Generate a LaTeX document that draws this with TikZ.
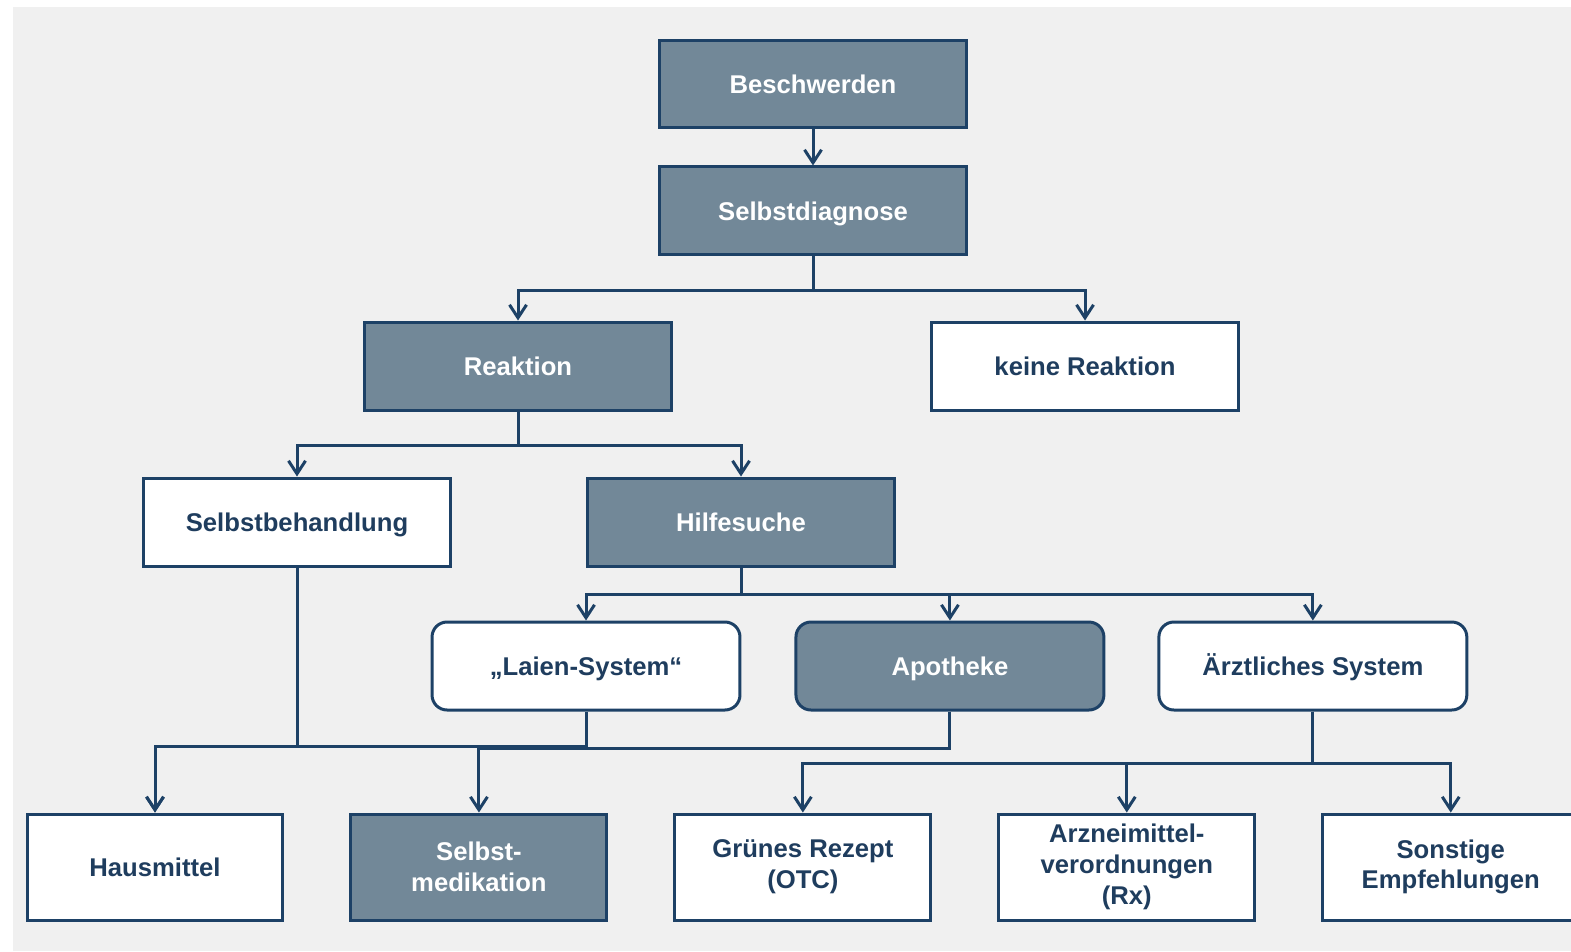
\documentclass[tikz,border=0pt]{standalone}
\usepackage{fontspec}
\setmainfont{Liberation Sans}
\usetikzlibrary{positioning,arrows.meta}

\definecolor{navy}{HTML}{1D4166}
\definecolor{slate}{HTML}{728898}
\definecolor{textnavy}{HTML}{1F3D5E}
\definecolor{bggray}{HTML}{F0F0F0}

\begin{document}
\begin{tikzpicture}[x=0.02cm, y=-0.02cm,
  box/.style={draw=navy, line width=0.06cm, minimum width=6.16cm, minimum height=1.76cm,
    align=center, font=\fontsize{14.6}{17.5}\selectfont\bfseries},
  oneline/.style={text height=10.5pt, text depth=0pt},
  darkbox/.style={box, fill=slate, text=white},
  lightbox/.style={box, fill=white, text=textnavy},
  darkround/.style={darkbox, oneline, rounded corners=0.3cm},
  lightround/.style={lightbox, oneline, rounded corners=0.3cm},
  leaf/.style={minimum width=5.12cm, minimum height=2.12cm},
  arr/.style={draw=navy, line width=0.06cm, -{Straight Barb[length=0.26cm,width=0.34cm]}}]
  \useasboundingbox (0,0) rectangle (1571,951);
  \fill[white] (0,0) rectangle (1571,951);
  \fill[bggray] (13,7) rectangle (1571,951);

  \node[darkbox, oneline] (besch) at (813,84) {Beschwerden};
  \node[darkbox, oneline] (diag) [below=0.72cm of besch] {Selbstdiagnose};
  \node[darkbox, oneline] (reak) at (518,366) {Reaktion};
  \node[lightbox, oneline] (keine) at (1085,366) {keine Reaktion};
  \node[lightbox, oneline] (sbeh) at (297,522) {Selbstbehandlung};
  \node[darkbox, oneline] (hilfe) at (741,522) {Hilfesuche};
  \node[lightround] (laien) at (586,666) {„Laien-System“};
  \node[darkround] (apo) [right=1.06cm of laien] {Apotheke};
  \node[lightround] (arzt) [right=1.04cm of apo] {Ärztliches System};
  \node[lightbox, leaf, oneline] (haus) at (155,867) {Hausmittel};
  \node[darkbox, leaf] (smed) [right=1.3cm of haus] {Selbst-\\medikation};
  \node[lightbox, leaf] (gruen) [right=1.3cm of smed] {Grünes Rezept\\(OTC)};
  \node[lightbox, leaf] (arznei) [right=1.3cm of gruen] {Arzneimittel-\\verordnungen\\(Rx)};
  \node[lightbox, leaf] (sonst) [right=1.3cm of arznei] {Sonstige\\Empfehlungen};

  \draw[arr] (besch) -- (diag);
  \draw[arr] (diag.south) -- ++(0,34) -| (reak.north);
  \draw[arr] (diag.south) -- ++(0,34) -| (keine.north);
  \draw[arr] (reak.south) -- ++(0,34) -| (sbeh.north);
  \draw[arr] (reak.south) -- ++(0,34) -| (hilfe.north);
  \draw[arr] (hilfe.south) -- ++(0,27) -| (laien.north);
  \draw[arr] (hilfe.south) -- ++(0,27) -| (apo.north);
  \draw[arr] (hilfe.south) -- ++(0,27) -| (arzt.north);
  \draw[arr] (sbeh.south) -- ++(0,179) -| (haus.north);
  \draw[arr] (laien.south) -- ++(0,35) -| (haus.north);
  \draw[arr] (apo.south) -- ++(0,37) -| (smed.north);
  \draw[arr] (arzt.south) -- ++(0,52) -| (gruen.north);
  \draw[arr] (arzt.south) -- ++(0,52) -| (arznei.north);
  \draw[arr] (arzt.south) -- ++(0,52) -| (sonst.north);
\end{tikzpicture}
\end{document}
